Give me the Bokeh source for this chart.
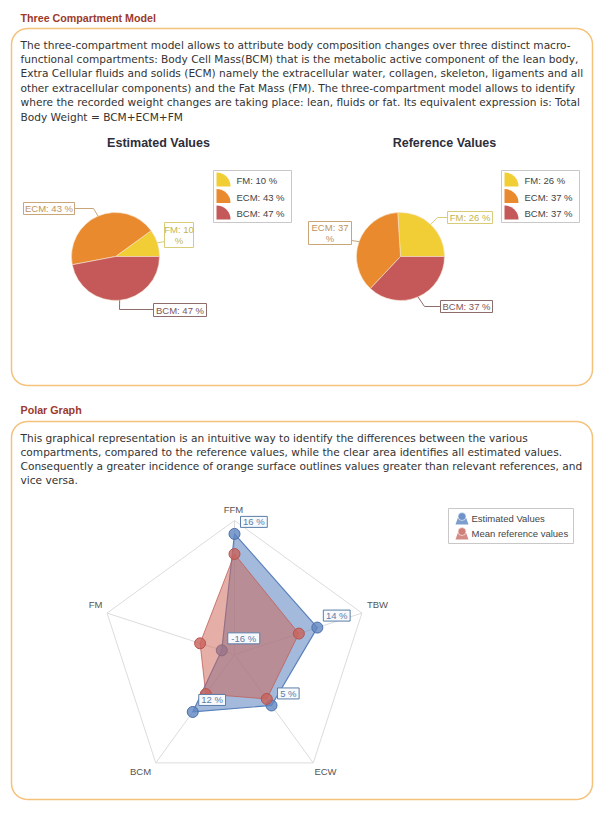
import numpy as np
from bokeh.plotting import figure
from bokeh.models import Range1d
from bokeh.embed import file_html
from bokeh.resources import INLINE
from bokeh.core.properties import value

# ---------------- data ----------------
pie_labels = ["FM", "ECM", "BCM"]
estimated_pct = [10, 43, 47]
reference_pct = [26, 37, 37]
pie_colors = ["#f1cd36", "#e98a2f", "#c5595a"]

radar_axes = ["FFM", "TBW", "ECW", "BCM", "FM"]
radar_estimated = [0.90, 0.65, 0.47, 0.53, 0.10]
radar_reference = [0.75, 0.505, 0.41, 0.365, 0.27]
radar_diff = ["16 %", "14 %", "5 %", "12 %", "-16 %"]

para1 = [
    "The three-compartment model allows to attribute body composition changes over three distinct macro-",
    "functional compartments: Body Cell Mass(BCM) that is the metabolic active component of the lean body,",
    "Extra Cellular fluids and solids (ECM) namely the extracellular water, collagen, skeleton, ligaments and all",
    "other extracellular components) and the Fat Mass (FM). The three-compartment model allows to identify",
    "where the recorded weight changes are taking place: lean, fluids or fat. Its equivalent expression is: Total",
    "Body Weight = BCM+ECM+FM",
]
para2 = [
    "This graphical representation is an intuitive way to identify the differences between the various",
    "compartments, compared to the reference values, while the clear area identifies all estimated values.",
    "Consequently a greater incidence of orange surface outlines values greater than relevant references, and",
    "vice versa.",
]

FONT = "Liberation Sans"
PFONT = "DejaVu Sans"
H = 817


def Y(s):
    return H - s


p = figure(width=598, height=805, x_range=Range1d(0, 598), y_range=Range1d(12, 817),
           output_backend="svg", toolbar_location=None, min_border=0)
p.axis.visible = False
p.grid.visible = False
p.outline_line_color = None
p.background_fill_color = "white"
p.border_fill_color = "white"


def txt(x, y, s, size=11, color="#333333", align="left", bold=False, font=FONT):
    p.text(x=[x], y=[Y(y)], text=[s], text_font=value(font), text_font_size=f"{size}px",
           text_color=color, text_align=align, text_baseline="middle",
           text_font_style="bold" if bold else "normal")


def rounded_box(l, t, r, b, rad, color, lw=1.5):
    xs, ys = [], []
    corners = [(r - rad, t + rad, 90, 0), (r - rad, b - rad, 0, -90),
               (l + rad, b - rad, -90, -180), (l + rad, t + rad, 180, 90)]
    for cx, cy, a0, a1 in corners:
        a = np.deg2rad(np.linspace(a0, a1, 12))
        xs += list(cx + rad * np.cos(a))
        ys += list(Y(cy) + rad * np.sin(a))
    p.patch(xs, ys, fill_color="white", line_color=color, line_width=lw)


def box(l, t, r, b, border, lines, color, size=9.5):
    p.quad(left=[l], right=[r], top=[Y(t)], bottom=[Y(b)], fill_color="white",
           line_color=border, line_width=1)
    n = len(lines)
    cy = (t + b) / 2
    for i, s in enumerate(lines):
        yy = cy + (i - (n - 1) / 2) * 11
        txt((l + r) / 2, yy, s, size, color, align="center")


def poly(pts, color, lw=1):
    p.line([q[0] for q in pts], [Y(q[1]) for q in pts], line_color=color, line_width=lw)


ORANGE = "#f4c27a"
TITLE_C = "#9c3a2b"

# ---------------- section 1 ----------------
txt(20, 17, "Three Compartment Model", 10.7, TITLE_C, bold=True)
rounded_box(11, 28, 592, 385, 16, ORANGE)
for i, s in enumerate(para1):
    txt(20, 44 + i * 14.4, s, 10.6, "#333333", font=PFONT)


def draw_pie(cx, cy, r, pcts):
    fr = np.array(pcts, dtype=float) / sum(pcts)
    ends = np.cumsum(fr) * 2 * np.pi
    starts = np.concatenate([[0.0], ends[:-1]])
    p.wedge(x=[cx] * len(pcts), y=[Y(cy)] * len(pcts), radius=r, start_angle=starts,
            end_angle=ends, fill_color=pie_colors, line_color="#f6e6d0", line_width=0.6)
    mids = (starts + ends) / 2
    return [(cx + r * np.cos(m), cy - r * np.sin(m)) for m in mids]


def pie_legend(l, t, vals):
    p.quad(left=[l], right=[l + 78], top=[Y(t)], bottom=[Y(t + 52)], fill_color="white",
           line_color="#c8c8c8", line_width=1)
    for i, (lab, v) in enumerate(zip(pie_labels, vals)):
        cy = t + 10 + i * 16.5
        p.wedge(x=[l + 3], y=[Y(cy + 6)], radius=14, start_angle=0, end_angle=np.pi / 2,
                fill_color=pie_colors[i], line_color=None)
        txt(l + 23, cy, f"{lab}: {v} %", 9.5, "#444444")


FM_B, FM_T = "#d8cc78", "#c4b552"
ECM_B, ECM_T = "#c9a678", "#bf9360"
BCM_B, BCM_T = "#8f6c6c", "#7e5656"

# pie 1
txt(158, 142, "Estimated Values", 12.5, "#2e2e3a", align="center", bold=True)
e = draw_pie(115, 256, 44, estimated_pct)
poly([e[1], (93, 208), (74, 208)], ECM_B)
box(23, 202, 74, 214, ECM_B, [f"ECM: {estimated_pct[1]} %"], ECM_T)
poly([e[0], (164, 241)], FM_B)
box(164, 222, 193, 247, FM_B, [f"FM: {estimated_pct[0]}", "%"], FM_T)
poly([e[2], (119, 309), (153, 309)], BCM_B)
box(153, 303, 206, 316, BCM_B, [f"BCM: {estimated_pct[2]} %"], BCM_T)
pie_legend(213, 170, estimated_pct)

# pie 2
txt(444, 142, "Reference Values", 12.5, "#2e2e3a", align="center", bold=True)
r2 = draw_pie(400, 256, 44, reference_pct)
poly([r2[0], (437, 217), (447, 217)], FM_B)
box(447, 211, 492, 223, FM_B, [f"FM: {reference_pct[0]} %"], FM_T)
poly([r2[1], (351, 240)], ECM_B)
box(308, 221, 351, 244, ECM_B, [f"ECM: {reference_pct[1]}", "%"], ECM_T)
poly([r2[2], (424, 306), (440, 306)], BCM_B)
box(440, 300, 492, 312, BCM_B, [f"BCM: {reference_pct[2]} %"], BCM_T)
pie_legend(501, 170, reference_pct)

# ---------------- section 2 ----------------
txt(20, 409, "Polar Graph", 10.7, TITLE_C, bold=True)
rounded_box(11, 421, 592, 799, 16, ORANGE)
for i, s in enumerate(para2):
    txt(20, 437.5 + i * 14, s, 10.6, "#333333", font=PFONT)

CX, CY, R = 234, 654, 134
ang = np.deg2rad(90 - 72 * np.arange(len(radar_axes)))


def rpts(vals):
    v = np.array(vals, dtype=float)
    return CX + R * v * np.cos(ang), Y(CY) + R * v * np.sin(ang)


gx, gy = rpts([1.0] * 5)
GRID = "#dcdcdc"
p.patch(list(gx), list(gy), fill_color=None, line_color=GRID, line_width=1)
for k in range(5):
    p.line([CX, gx[k]], [Y(CY), gy[k]], line_color=GRID, line_width=1)

label_pos = [(233, 509, "center"), (377, 604, "center"), (325, 771, "center"),
             (140, 771, "center"), (95, 604, "center")]
for (lx, ly, al), name in zip(label_pos, radar_axes):
    txt(lx, ly, name, 9.5, "#555555", align=al)

BLUE_F, BLUE_L = "#6a8fc6", "#5a80bb"
RED_F, RED_L = "#cd6455", "#c0605a"

ex, ey = rpts(radar_estimated)
rx, ry = rpts(radar_reference)
p.patch(list(ex), list(ey), fill_color=BLUE_F, fill_alpha=0.62, line_color=BLUE_L, line_width=1.2)
p.scatter(ex, ey, size=11, fill_color="#5f86c2", fill_alpha=0.8, line_color="#4a6fa8", line_width=1)
p.patch(list(rx), list(ry), fill_color=RED_F, fill_alpha=0.52, line_color=RED_L, line_alpha=0.8, line_width=1)
p.scatter(rx, ry, size=11, fill_color="#c9615a", fill_alpha=0.8, line_color="#b5544f", line_width=1)

LBL = "#5b7ea8"
for k, s in enumerate(radar_diff):
    bx = ex[k] + 6
    by = Y(ey[k]) - 12
    w = 6 + len(s) * 5.2
    p.quad(left=[bx], right=[bx + w], top=[Y(by - 5.5)], bottom=[Y(by + 5.5)],
           fill_color="#f7f9fc", line_color=LBL, line_width=1)
    txt(bx + w / 2, by, s, 9.5, LBL, align="center")

# radar legend
p.quad(left=[448], right=[573], top=[Y(508)], bottom=[Y(543)], fill_color="white",
       line_color="#c8c8c8", line_width=1)
for i, (name, fc) in enumerate([("Estimated Values", "#6f93c8"), ("Mean reference values", "#d07e78")]):
    cy = 518 + i * 15
    p.patch([455, 468, 465.5, 457.5], [Y(cy + 6), Y(cy + 6), Y(cy - 1), Y(cy - 1)],
            fill_color=fc, line_color=None, fill_alpha=0.9)
    p.scatter([461.5], [Y(cy - 2)], size=8, fill_color=fc, line_color="#ffffff", line_alpha=0.6)
    txt(471, cy, name, 9.5, "#444444")

open("out.html", "w").write(file_html(p, INLINE))
